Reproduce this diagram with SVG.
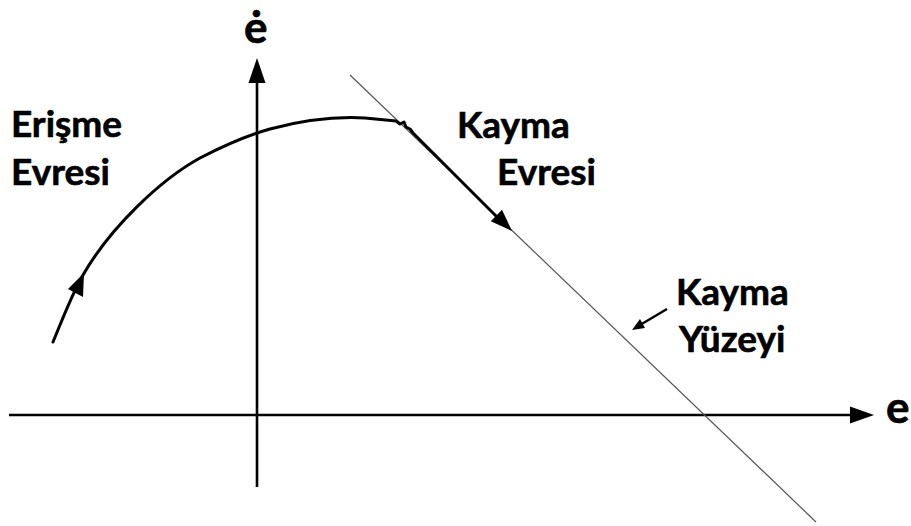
<svg xmlns="http://www.w3.org/2000/svg" width="911" height="526" viewBox="0 0 911 526">
<style>
.lbl{font-family:Lato,"Liberation Sans",sans-serif;font-weight:bold;font-size:37px;fill:#000;stroke:#000;stroke-width:0.6}
.big{font-size:44px}
.axis{stroke:#000;stroke-width:2.6;fill:none}
.thick{stroke:#000;stroke-width:3;fill:none;stroke-linejoin:round;stroke-linecap:round}
.thin{stroke:#555;stroke-width:1.2;fill:none}
.head{fill:#000}
</style>
<rect width="911" height="526" fill="#fff"/>
<g id="connectors">
<line class="axis" x1="9" y1="415" x2="852" y2="415"/>
<polygon class="head" points="874,415 850,406.5 850,423.5"/>
<line class="axis" x1="257" y1="487" x2="257" y2="80"/>
<polygon class="head" points="257,58 248.5,83 265.5,83"/>
<line class="thin" x1="350" y1="75" x2="816" y2="522"/>
<path class="thick" d="M53,342 C63,318 72,294 83,275 C110,228 160,180 200,158 C225,145 245,136 270,129 C300,121 330,116 365,118 L396,121 L400,124 L404,122 L406,127 L410,129 L413,133 L500,220"/>
<polygon class="head" points="512,231 490.8,221.2 502,209.8"/>
<polygon class="head" points="84,273 68,289 83,297"/>
<line stroke="#000" stroke-width="2.5" x1="667" y1="309" x2="640" y2="325"/>
<polygon class="head" points="632,330 640,319 645,328"/>
</g>
<g id="axis-e"><text class="lbl big" x="886" y="423">e</text></g>
<g id="axis-edot"><text class="lbl big" x="244" y="43">ė</text></g>
<g id="erisme"><text class="lbl" x="11" y="137">Erişme</text><text class="lbl" x="11" y="185">Evresi</text></g>
<g id="kayma-evresi"><text class="lbl" x="457" y="138">Kayma</text><text class="lbl" x="497" y="185">Evresi</text></g>
<g id="kayma-yuzeyi"><text class="lbl" x="676" y="305">Kayma</text><text class="lbl" x="679" y="352">Yüzeyi</text></g>
</svg>
